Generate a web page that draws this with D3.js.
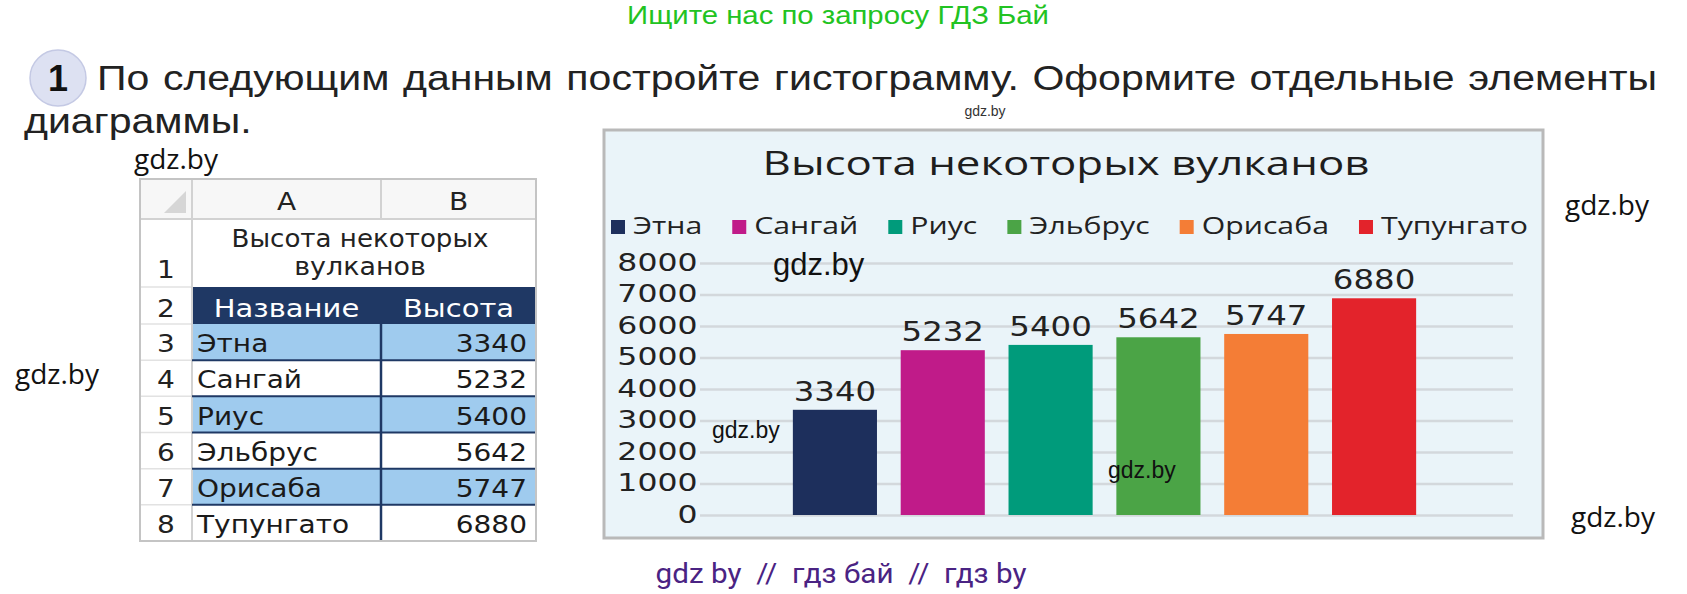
<!DOCTYPE html>
<html>
<head>
<meta charset="utf-8">
<script src="https://cdn.jsdelivr.net/npm/d3@7"></script>
<style>
  html, body { margin: 0; padding: 0; background: #fff; }
  svg { display: block; }
  text { white-space: pre; }
</style>
</head>
<body>
<svg id="page" width="1687" height="594"></svg>
<script>
// ---- data ----
const volcanoes = ["Этна", "Сангай", "Риус", "Эльбрус", "Орисаба", "Тупунгато"];
const heights = [3340, 5232, 5400, 5642, 5747, 6880];
const barColors = ["#1d2f5c", "#c01b89", "#009b7b", "#4ba446", "#f47d36", "#e3232b"];
const yTicks = [0, 1000, 2000, 3000, 4000, 5000, 6000, 7000, 8000];
const chartTitle = "Высота некоторых вулканов";
const tableTitle = ["Высота некоторых", "вулканов"];
const tableHead = ["Название", "Высота"];
const columnLetters = ["A", "B"];
const taskText = "По следующим данным постройте гистограмму. Оформите отдельные элементы";
const taskText2 = "диаграммы.";
const siteLine = "Ищите нас по запросу ГДЗ Бай";
const footerLine = "gdz by  //  гдз бай  //  гдз by";
const mark = "gdz.by";

// ---- fonts ----
const BOOK = "'Liberation Sans', Arial, sans-serif";
const NARROW = "'Liberation Sans Narrow', 'Liberation Sans', Arial, sans-serif";
const WIDE = "'DejaVu Sans', sans-serif";
const HUMAN = "'Open Sans', 'Noto Sans', sans-serif";
const ROBO = "Roboto, 'Open Sans', sans-serif";

const svg = d3.select("#page");

// text helper: places a string and stretches it horizontally (fixed factor or to a width)
function label(parent, x, y, str, o) {
  const t = parent.append("text")
    .attr("text-anchor", o.anchor || "start")
    .style("font-family", o.font)
    .style("font-size", o.size + "px")
    .attr("fill", o.fill || "#1a1a1a")
    .text(str);
  if (o.weight) t.style("font-weight", o.weight);
  let sx = o.sx || 1;
  if (o.width) sx = o.width / t.node().getComputedTextLength();
  t.attr("transform", `translate(${x},${y}) scale(${sx},1)`);
  return t;
}

// ---- page header ----
label(svg, 838, 24, siteLine, { font: NARROW, size: 25, fill: "#22c322", anchor: "middle", width: 422 });

svg.append("circle").attr("cx", 58).attr("cy", 78).attr("r", 28)
  .attr("fill", "#dde1f2").attr("stroke", "#c4c9e4").attr("stroke-width", 1.5);
label(svg, 58, 91, "1", { font: BOOK, size: 36, weight: "bold", anchor: "middle", fill: "#111" });

const taskSx = 1.14;
const task = label(svg, 97, 90, taskText, { font: BOOK, size: 36, sx: taskSx, fill: "#222" });
{
  const natural = task.node().getComputedTextLength();
  const gaps = taskText.split(" ").length - 1;
  task.style("word-spacing", ((1560 / taskSx - natural) / gaps) + "px");
}
label(svg, 24, 133, taskText2, { font: BOOK, size: 36, sx: taskSx, fill: "#222" });

// ---- spreadsheet ----
const tbl = svg.append("g");
const colNum = [140, 192], colA = [192, 381], colB = [381, 536];
const tblTop = 179, headBottom = 219, row1Bottom = 287, row2Bottom = 324, tblBottom = 541;
const rowY = d3.scaleBand().domain(volcanoes).range([row2Bottom, tblBottom]);
const navy = "#1f3864";
const TSX = 1.12;

tbl.append("rect").attr("x", colNum[0]).attr("y", tblTop)
  .attr("width", colB[1] - colNum[0]).attr("height", tblBottom - tblTop).attr("fill", "#fff");
tbl.append("rect").attr("x", colNum[0]).attr("y", tblTop)
  .attr("width", colB[1] - colNum[0]).attr("height", headBottom - tblTop).attr("fill", "#f7f7f7");
// corner triangle
tbl.append("path").attr("d", "M186,191 L186,213 L164,213 Z").attr("fill", "#d6d6d6");

// striped data rows
tbl.selectAll("rect.stripe").data(volcanoes.filter((d, i) => i % 2 === 0)).join("rect")
  .attr("class", "stripe")
  .attr("x", colA[0]).attr("y", d => rowY(d))
  .attr("width", colB[1] - colA[0]).attr("height", rowY.bandwidth())
  .attr("fill", "#9fcbee");

// dark header row
tbl.append("rect").attr("x", colA[0]).attr("y", row1Bottom)
  .attr("width", colB[1] - colA[0]).attr("height", row2Bottom - row1Bottom).attr("fill", navy);

// grid lines of the sheet
const light = "#d2d2d2";
const rowEdges = [row1Bottom, row2Bottom].concat(volcanoes.map(d => rowY(d) + rowY.bandwidth()));
tbl.selectAll("line.numrow").data(rowEdges).join("line")
  .attr("x1", colNum[0]).attr("x2", colNum[1]).attr("y1", d => d).attr("y2", d => d)
  .attr("stroke", "#e2e2e2").attr("stroke-width", 1.5);
tbl.append("line").attr("x1", colNum[0]).attr("x2", colB[1]).attr("y1", headBottom).attr("y2", headBottom)
  .attr("stroke", light).attr("stroke-width", 2);
tbl.append("line").attr("x1", colNum[1]).attr("x2", colNum[1]).attr("y1", tblTop).attr("y2", tblBottom)
  .attr("stroke", light).attr("stroke-width", 2);
tbl.append("line").attr("x1", colA[1]).attr("x2", colA[1]).attr("y1", tblTop).attr("y2", headBottom)
  .attr("stroke", light).attr("stroke-width", 2);
tbl.selectAll("line.datarow").data(volcanoes.slice(0, -1)).join("line")
  .attr("class", "datarow")
  .attr("x1", colA[0]).attr("x2", colB[1])
  .attr("y1", d => rowY(d) + rowY.bandwidth()).attr("y2", d => rowY(d) + rowY.bandwidth())
  .attr("stroke", navy).attr("stroke-width", 2);
tbl.append("line").attr("x1", colA[1]).attr("x2", colA[1]).attr("y1", row2Bottom).attr("y2", tblBottom)
  .attr("stroke", navy).attr("stroke-width", 2.5);
tbl.append("rect").attr("x", colNum[0]).attr("y", tblTop)
  .attr("width", colB[1] - colNum[0]).attr("height", tblBottom - tblTop)
  .attr("fill", "none").attr("stroke", "#c4c4c4").attr("stroke-width", 2);

// sheet texts
const colCenters = [(colA[0] + colA[1]) / 2, (colB[0] + colB[1]) / 2];
columnLetters.forEach((c, i) => label(tbl, colCenters[i], 210, c, { font: WIDE, size: 25, anchor: "middle", sx: TSX, fill: "#222" }));
const numX = (colNum[0] + colNum[1]) / 2;
label(tbl, numX, 278, "1", { font: WIDE, size: 25, anchor: "middle", sx: TSX, fill: "#222" });
label(tbl, numX, 317, "2", { font: WIDE, size: 25, anchor: "middle", sx: TSX, fill: "#222" });
const titleCx = (colA[0] + colB[1]) / 2 - 4;
label(tbl, titleCx, 247, tableTitle[0], { font: WIDE, size: 24, anchor: "middle", width: 257, fill: "#222" });
label(tbl, titleCx, 275, tableTitle[1], { font: WIDE, size: 24, anchor: "middle", sx: 1.12, fill: "#222" });
tableHead.forEach((h, i) => label(tbl, colCenters[i], 317, h, { font: WIDE, size: 25, anchor: "middle", sx: 1.16, fill: "#fff" }));

volcanoes.forEach((v, i) => {
  const base = rowY(v) + rowY.bandwidth() - 8;
  label(tbl, numX, base, String(i + 3), { font: WIDE, size: 25, anchor: "middle", sx: TSX, fill: "#222" });
  label(tbl, colA[0] + 5, base, v, { font: WIDE, size: 25, sx: TSX, fill: "#1a1a1a" });
  label(tbl, colB[1] - 9, base, String(heights[i]), { font: WIDE, size: 25, anchor: "end", sx: TSX, fill: "#1a1a1a" });
});

// ---- column chart ----
const chart = svg.append("g");
chart.append("rect").attr("x", 604).attr("y", 130).attr("width", 939).attr("height", 408)
  .attr("fill", "#eaf4f9").attr("stroke", "#b9b9b9").attr("stroke-width", 3);

label(chart, 1066, 175, chartTitle, { font: HUMAN, size: 33, anchor: "middle", width: 607, fill: "#1e1e1e" });

const color = d3.scaleOrdinal(volcanoes, barColors);
const gridLeft = 700, gridRight = 1513;
const x = d3.scaleBand().domain(volcanoes).range([781, 1428]).paddingInner(0.22).paddingOuter(0.11);
const y = d3.scaleLinear().domain([0, 8000]).range([515, 263]);

// legend
const LSX = 1.26;
const legend = chart.append("g");
const items = legend.selectAll("g").data(volcanoes).join("g");
items.append("rect").attr("y", -14).attr("width", 14).attr("height", 14).attr("fill", d => color(d));
items.append("text")
  .attr("transform", `translate(22,0) scale(${LSX},1)`)
  .style("font-family", HUMAN).style("font-size", "24px").attr("fill", "#222")
  .text(d => d);
{
  const widths = items.select("text").nodes().map(n => n.getComputedTextLength() * LSX);
  const gap = (1528 - 611 - 22 * volcanoes.length - d3.sum(widths)) / (volcanoes.length - 1);
  let cx = 611;
  const xs = widths.map(w => { const p = cx; cx += 22 + w + gap; return p; });
  items.attr("transform", (d, i) => `translate(${xs[i]},234)`);
}

// value axis with gridlines
const axis = chart.append("g").attr("transform", `translate(${gridLeft},0)`)
  .call(d3.axisLeft(y).tickValues(yTicks).tickSize(-(gridRight - gridLeft)).tickPadding(2).tickFormat(d3.format("d")));
axis.select(".domain").remove();
axis.selectAll(".tick line").attr("stroke", "#d3d8dc").attr("stroke-width", 2.5);
axis.selectAll(".tick text")
  .attr("fill", "#222").attr("transform", "scale(1.26,1)").attr("dy", "0.28em")
  .style("font-family", WIDE).style("font-size", "25px");

// bars
chart.selectAll("rect.bar").data(volcanoes).join("rect")
  .attr("class", "bar")
  .attr("x", d => x(d)).attr("width", x.bandwidth())
  .attr("y", (d, i) => y(heights[i])).attr("height", (d, i) => y(0) - y(heights[i]))
  .attr("fill", d => color(d));

// value labels
chart.selectAll("text.val").data(volcanoes).join("text")
  .attr("class", "val")
  .attr("text-anchor", "middle")
  .attr("transform", (d, i) => `translate(${x(d) + x.bandwidth() / 2},${y(heights[i]) - 9}) scale(1.2,1)`)
  .style("font-family", WIDE).style("font-size", "27px").attr("fill", "#222")
  .text((d, i) => heights[i]);

// ---- site marks ----
label(svg, 985, 116, mark, { font: NARROW, size: 14, anchor: "middle", fill: "#333" });
label(svg, 134, 169, mark, { font: HUMAN, size: 28, fill: "#111" });
label(svg, 15, 384, mark, { font: HUMAN, size: 28, fill: "#111" });
label(svg, 1565, 215, mark, { font: HUMAN, size: 28, fill: "#111" });
label(svg, 1571, 527, mark, { font: HUMAN, size: 28, fill: "#111" });
label(svg, 773, 275, mark, { font: BOOK, size: 31, fill: "#111" });
label(svg, 712, 438, mark, { font: BOOK, size: 23, fill: "#111" });
label(svg, 1108, 478, mark, { font: BOOK, size: 23, fill: "#111" });
label(svg, 841, 583, footerLine, { font: ROBO, size: 27, anchor: "middle", width: 371, fill: "#4a2383" });
</script>
</body>
</html>
